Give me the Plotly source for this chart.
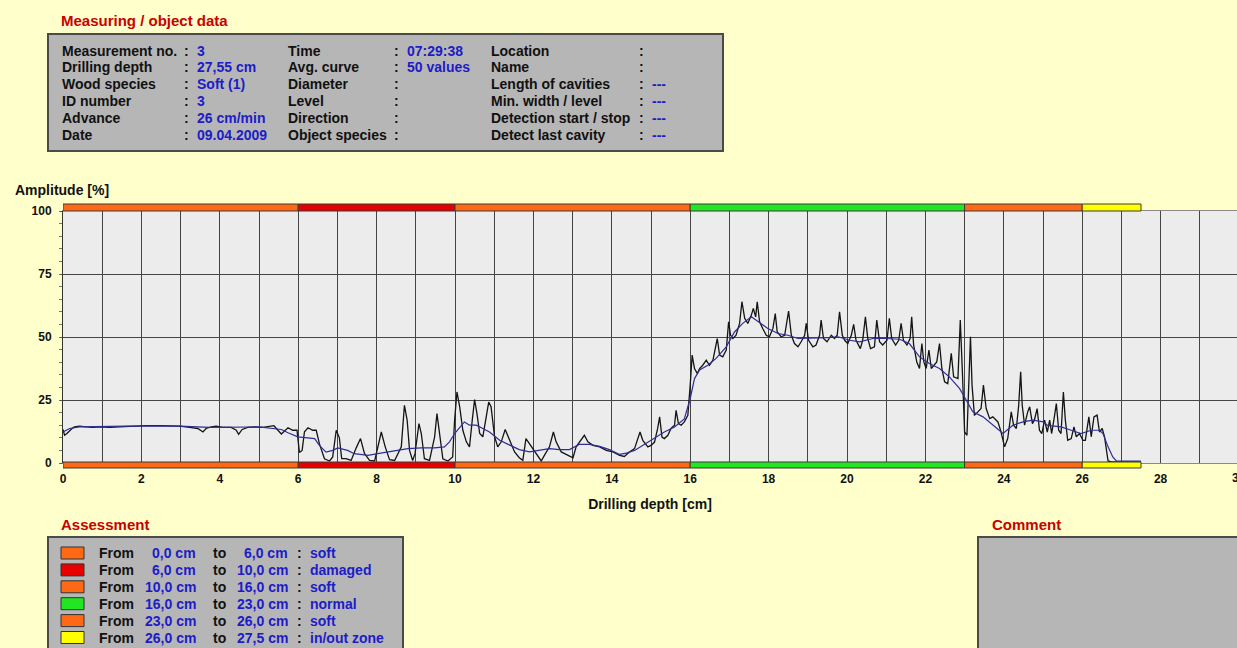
import plotly.graph_objects as go

# drilling profile (raw curve): depth in cm, amplitude in %
depth = [
    0.00, 0.04, 0.10, 0.17, 0.23, 0.29, 0.42, 0.59, 0.76, 0.93, 1.19, 1.44, 1.78, 2.12, 2.46,
    2.97, 3.23, 3.44, 3.57, 3.65, 3.78, 3.91, 4.08, 4.29, 4.42, 4.48, 4.57, 4.71, 4.88, 5.10,
    5.38, 5.57, 5.74, 5.86, 5.97, 6.03, 6.10, 6.16, 6.25, 6.37, 6.46, 6.54, 6.67, 6.80, 6.88,
    6.97, 7.05, 7.11, 7.22, 7.35, 7.48, 7.59, 7.69, 7.82, 7.95, 8.05, 8.12, 8.22, 8.33, 8.46,
    8.63, 8.71, 8.78, 8.84, 8.92, 8.98, 9.08, 9.14, 9.22, 9.35, 9.48, 9.54, 9.60, 9.69, 9.82,
    9.94, 9.99, 10.05, 10.12, 10.20, 10.29, 10.37, 10.44, 10.50, 10.56, 10.63, 10.71, 10.80, 10.86, 10.92,
    11.01, 11.09, 11.18, 11.28, 11.39, 11.52, 11.64, 11.73, 11.81, 11.90, 11.98, 12.09, 12.20, 12.28, 12.41,
    12.51, 12.58, 12.71, 12.88, 13.01, 13.09, 13.19, 13.30, 13.39, 13.52, 13.69, 13.86, 14.03, 14.20, 14.32,
    14.45, 14.58, 14.72, 14.79, 14.92, 15.00, 15.09, 15.17, 15.22, 15.28, 15.34, 15.43, 15.51, 15.60, 15.64,
    15.70, 15.77, 15.85, 15.94, 16.00, 16.05, 16.11, 16.18, 16.24, 16.32, 16.41, 16.49, 16.58, 16.64, 16.69,
    16.75, 16.83, 16.92, 16.98, 17.03, 17.09, 17.17, 17.26, 17.32, 17.39, 17.47, 17.56, 17.61, 17.67, 17.71,
    17.77, 17.85, 17.94, 18.02, 18.11, 18.17, 18.22, 18.32, 18.41, 18.51, 18.58, 18.66, 18.75, 18.83, 18.92,
    18.96, 19.02, 19.13, 19.21, 19.30, 19.34, 19.40, 19.49, 19.60, 19.68, 19.75, 19.81, 19.88, 19.94, 20.02,
    20.11, 20.17, 20.23, 20.34, 20.40, 20.47, 20.53, 20.60, 20.70, 20.76, 20.83, 20.91, 21.02, 21.08, 21.14,
    21.24, 21.32, 21.38, 21.44, 21.53, 21.61, 21.65, 21.70, 21.78, 21.85, 21.91, 21.96, 22.02, 22.09, 22.15,
    22.23, 22.29, 22.36, 22.42, 22.49, 22.57, 22.66, 22.72, 22.83, 22.89, 22.94, 23.00, 23.06, 23.11, 23.15,
    23.19, 23.25, 23.34, 23.42, 23.48, 23.55, 23.64, 23.72, 23.85, 23.93, 24.02, 24.10, 24.19, 24.25, 24.32,
    24.38, 24.43, 24.47, 24.53, 24.61, 24.66, 24.73, 24.78, 24.85, 24.91, 24.97, 25.04, 25.11, 25.17, 25.22,
    25.29, 25.34, 25.40, 25.46, 25.52, 25.57, 25.63, 25.72, 25.79, 25.85, 25.93, 26.02, 26.08, 26.13, 26.17,
    26.23, 26.30, 26.38, 26.44, 26.51, 26.57, 26.66, 26.74, 27.50,
]
amplitude = [
    13.3, 11.0, 11.7, 13.0, 13.7, 14.3, 14.6, 14.3, 14.1, 14.3, 14.1, 14.3, 14.6, 14.8, 14.8,
    14.6, 14.1, 13.7, 12.3, 13.7, 14.3, 14.6, 14.1, 14.1, 13.0, 11.4, 13.3, 14.1, 14.3, 14.1,
    14.8, 11.5, 14.0, 13.0, 13.0, 4.2, 5.0, 12.4, 14.0, 13.0, 13.0, 7.7, 1.7, 0.8, 2.4,
    13.0, 10.0, 1.7, 1.7, 1.0, 6.0, 9.7, 3.8, 1.0, 0.8, 7.0, 12.3, 6.4, 1.3, 1.0,
    6.4, 22.9, 16.9, 5.0, 1.0, 3.7, 15.6, 11.7, 1.7, 1.0, 10.4, 19.6, 13.0, 1.7, 0.8,
    2.4, 17.0, 28.2, 22.3, 13.0, 8.4, 6.4, 17.0, 25.2, 19.6, 11.7, 10.4, 19.6, 24.2, 22.3,
    10.4, 6.4, 8.4, 13.3, 9.0, 4.4, 2.1, 1.1, 9.7, 7.7, 5.7, 3.7, 0.8, 3.0, 6.4,
    12.3, 8.4, 4.4, 3.0, 2.1, 6.4, 8.4, 11.0, 8.4, 7.0, 6.4, 5.0, 4.4, 3.0, 2.6,
    4.4, 5.7, 12.3, 9.0, 6.4, 7.0, 8.3, 13.7, 18.3, 10.3, 9.7, 11.0, 13.7, 15.0, 20.9,
    15.6, 15.0, 16.3, 18.9, 30.9, 42.8, 37.5, 35.5, 37.5, 38.8, 40.8, 38.8, 40.8, 44.8, 49.4,
    42.8, 42.1, 44.8, 56.0, 50.7, 49.4, 50.7, 55.4, 64.0, 57.4, 55.4, 58.7, 61.3, 58.0, 64.0,
    56.0, 53.4, 50.7, 50.1, 53.4, 59.3, 52.0, 50.1, 50.7, 60.3, 50.7, 47.4, 46.1, 48.1, 50.7,
    55.4, 48.7, 46.1, 46.8, 50.7, 56.7, 49.4, 48.1, 50.7, 49.4, 50.7, 60.0, 50.7, 48.7, 47.4,
    50.7, 55.0, 48.7, 45.4, 48.7, 58.0, 49.4, 45.4, 46.1, 56.7, 48.1, 46.8, 48.7, 57.4, 49.4,
    46.8, 48.7, 55.4, 48.7, 46.8, 49.4, 58.0, 46.8, 40.1, 37.5, 47.4, 40.1, 37.5, 44.8, 37.5,
    38.8, 40.1, 47.4, 37.5, 32.2, 31.5, 43.5, 34.2, 33.5, 56.7, 37.5, 12.3, 11.0, 29.6, 50.1,
    30.9, 18.9, 20.3, 21.6, 30.9, 21.6, 17.6, 18.3, 16.3, 12.3, 6.4, 9.7, 20.3, 15.0, 13.7,
    22.9, 36.2, 22.9, 15.0, 20.3, 22.3, 15.6, 17.0, 21.6, 13.0, 11.7, 17.0, 12.3, 17.0, 11.7,
    18.3, 23.6, 13.0, 11.7, 28.2, 17.0, 9.0, 9.7, 14.3, 10.4, 11.7, 9.0, 9.0, 13.7, 18.3,
    10.4, 18.3, 19.0, 12.3, 13.7, 10.4, 0.8, 0.4, 0.4,
]

# averaged curve (50 values)
avg_depth = [
    0.00, 0.17, 0.42, 1.61, 2.97, 3.74, 5.00, 5.57, 5.74, 5.99, 6.42, 6.54, 6.71, 6.88, 7.01,
    7.26, 7.43, 7.78, 8.03, 8.29, 8.54, 8.80, 9.14, 9.48, 9.73, 9.86, 9.99, 10.24, 10.37, 10.54,
    10.71, 10.88, 11.14, 11.39, 11.64, 11.90, 12.15, 12.41, 12.66, 12.92, 13.17, 13.43, 13.69, 13.94, 14.20,
    14.37, 14.58, 14.79, 14.90, 15.09, 15.34, 15.60, 15.85, 16.00, 16.11, 16.24, 16.45, 16.66, 16.92, 17.13,
    17.34, 17.56, 17.73, 17.98, 18.24, 18.49, 18.75, 19.00, 19.26, 19.51, 19.77, 20.07, 20.32, 20.66, 21.00,
    21.34, 21.59, 21.85, 22.10, 22.36, 22.61, 22.87, 23.04, 23.21, 23.47, 23.72, 23.98, 24.23, 24.49, 24.74,
    25.01, 25.12, 25.46, 25.72, 25.97, 26.23, 26.44, 26.53, 26.66, 26.78, 26.87, 27.50,
]
avg_amplitude = [
    12.3, 13.7, 14.3, 14.6, 14.6, 14.1, 14.3, 13.3, 12.0, 10.4, 9.7, 7.0, 4.3, 5.0, 6.0,
    5.0, 3.7, 3.0, 3.7, 4.4, 5.0, 5.7, 6.0, 6.0, 6.4, 8.4, 11.7, 16.3, 15.0, 15.0,
    13.7, 12.3, 9.0, 7.0, 5.3, 4.4, 5.0, 5.7, 5.3, 5.3, 7.4, 7.4, 6.6, 5.3, 3.4,
    3.9, 5.0, 7.0, 8.3, 10.0, 12.3, 14.3, 17.5, 25.6, 33.5, 36.9, 38.8, 41.5, 46.1, 52.0,
    55.4, 58.0, 56.0, 53.4, 51.4, 50.7, 49.4, 49.4, 49.4, 49.7, 50.1, 48.7, 48.1, 49.4, 49.4,
    49.1, 47.4, 42.1, 39.5, 37.5, 34.2, 29.6, 25.0, 20.3, 18.3, 15.0, 11.7, 15.0, 16.3, 17.0,
    16.3, 14.9, 14.3, 13.0, 11.7, 13.0, 13.0, 11.7, 6.4, 2.4, 0.8, 0.8,
]

# assessment zones
zone_from = [0.0, 6.0, 10.0, 16.0, 23.0, 26.0]
zone_to = [6.0, 10.0, 16.0, 23.0, 26.0, 27.5]
zone_state = ["soft", "damaged", "soft", "normal", "soft", "in/out zone"]
zone_colors = ["#ff6815", "#e60000", "#ff6815", "#22e622", "#ff6815", "#ffff00"]

# measuring / object data panel
info_labels_1 = ["Measurement no.", "Drilling depth", "Wood species", "ID number", "Advance", "Date"]
info_values_1 = ["3", "27,55 cm", "Soft (1)", "3", "26 cm/min", "09.04.2009"]
info_labels_2 = ["Time", "Avg. curve", "Diameter", "Level", "Direction", "Object species"]
info_values_2 = ["07:29:38", "50 values", "", "", "", ""]
info_labels_3 = ["Location", "Name", "Length of cavities", "Min. width / level",
                 "Detection start / stop", "Detect last cavity"]
info_values_3 = ["", "", "---", "---", "---", "---"]

x_ticks = list(range(0, 31))
y_ticks = [0, 25, 50, 75, 100]

# page geometry (pixels) -> paper coords
W, H = 1237, 648
ML, MR, MT, MB = 63, 0, 211, 185
PW = W - ML - MR
PH = H - MT - MB
CM_PX = 39.2  # px per cm on screen


def fx(x):
    return (x - ML) / PW


def fy(y):
    return (H - MB - y) / PH


FONT = "Liberation Sans, Arial, sans-serif"
BLUE = "#1c1cc8"
RED = "#c80000"
BOX = "#b6b6b6"
GRID = "#454545"
annotations = []
shapes = []


def text(x, y, s, color="#111111", size=14, anchor="left"):
    annotations.append(dict(
        text=s, x=fx(x), y=fy(y), xref="paper", yref="paper", xanchor=anchor, yanchor="middle",
        showarrow=False, borderpad=0, font=dict(family=FONT, size=size, color=color, weight="bold"),
    ))


def box(x0, y0, x1, y1, fill, line="#4a4a4a", width=2):
    shapes.append(dict(type="rect", xref="paper", yref="paper", x0=fx(x0), x1=fx(x1), y0=fy(y1), y1=fy(y0),
                       fillcolor=fill, line=dict(color=line, width=width), layer="below"))


fig = go.Figure()
fig.add_trace(go.Scatter(x=depth, y=amplitude, mode="lines", line=dict(color="#141414", width=1.3),
                         hoverinfo="skip"))
fig.add_trace(go.Scatter(x=avg_depth, y=avg_amplitude, mode="lines", line=dict(color="#2e2e96", width=1.2),
                         hoverinfo="skip"))

# assessment colour bars above and below the plot
for z0, z1, c in zip(zone_from, zone_to, zone_colors):
    for y0, y1 in [(204, 211), (462, 468)]:
        shapes.append(dict(type="rect", xref="x", yref="paper", x0=z0, x1=z1, y0=fy(y1), y1=fy(y0),
                           fillcolor=c, line=dict(color="#3a3a3a", width=1), layer="above"))

# header panel
text(60, 20, "Measuring / object data", RED, 15)
box(48, 34, 723, 151, BOX)
rows_y = [50.5 + 16.9 * i for i in range(6)]
for cols, vals, xl, xc, xv in [(info_labels_1, info_values_1, 61, 183, 196),
                               (info_labels_2, info_values_2, 287, 393, 406),
                               (info_labels_3, info_values_3, 490, 638, 651)]:
    for y, lab, val in zip(rows_y, cols, vals):
        text(xl, y, lab)
        text(xc, y, ":")
        if val:
            text(xv, y, val, BLUE)

# assessment panel
text(60, 524, "Assessment", RED, 15)
box(48, 537, 403, 665, BOX)
for i, (z0, z1, st, c) in enumerate(zip(zone_from, zone_to, zone_state, zone_colors)):
    y = 553 + 16.9 * i
    shapes.append(dict(type="rect", xref="paper", yref="paper", x0=fx(61), x1=fx(84), y0=fy(y + 6), y1=fy(y - 6),
                       fillcolor=c, line=dict(color="#333333", width=1)))
    text(98, y, "From")
    text(197, y, f"{z0:.1f} cm".replace(".", ","), BLUE, anchor="right")
    text(212, y, "to")
    text(289, y, f"{z1:.1f} cm".replace(".", ","), BLUE, anchor="right")
    text(296, y, ":")
    text(309, y, st, BLUE)

# comment panel
text(991, 524, "Comment", RED, 15)
box(978, 537, 1245, 665, BOX)

text(14, 190, "Amplitude [%]", size=14)
# last tick label sits on the page edge
annotations.append(dict(text="30", x=30 / (PW / CM_PX), y=fy(478), xref="paper", yref="paper",
                        xanchor="center", yanchor="middle", showarrow=False,
                        font=dict(family=FONT, size=12, color="#111111", weight="bold")))

fig.update_layout(
    width=W, height=H,
    margin=dict(l=ML, r=MR, t=MT, b=MB),
    paper_bgcolor="#ffffcc",
    plot_bgcolor="#ececec",
    showlegend=False,
    shapes=shapes,
    annotations=annotations,
    font=dict(family=FONT, color="#111111"),
)
fig.update_xaxes(
    range=[0, PW / CM_PX],
    tickmode="array", tickvals=x_ticks, ticktext=[str(v) if v % 2 == 0 else "" for v in x_ticks],
    tickfont=dict(family=FONT, size=12, weight="bold"),
    showgrid=True, gridcolor=GRID, gridwidth=1, zeroline=False,
    showline=True, mirror=True, linecolor="#8a8a8a", linewidth=1,
    ticks="", ticklabelstandoff=5,
    title=dict(text="Drilling depth [cm]", font=dict(family=FONT, size=14, weight="bold"), standoff=13),
)
fig.update_yaxes(
    range=[0, 100],
    tickmode="array", tickvals=y_ticks,
    tickfont=dict(family=FONT, size=12, weight="bold"),
    showgrid=True, gridcolor=GRID, gridwidth=1, zeroline=False,
    showline=True, linecolor="#333333", linewidth=1,
    ticks="outside", ticklen=2, tickcolor="#555555",
    minor=dict(dtick=5, ticks="outside", ticklen=3, tickcolor="#777777", showgrid=False),
    ticklabelstandoff=6,
)

# the page sits flush in the window, like the screenshot
fig.write_html("out.html", config={"displayModeBar": False},
               post_script="document.body.style.margin='0';document.body.style.overflow='hidden';")
